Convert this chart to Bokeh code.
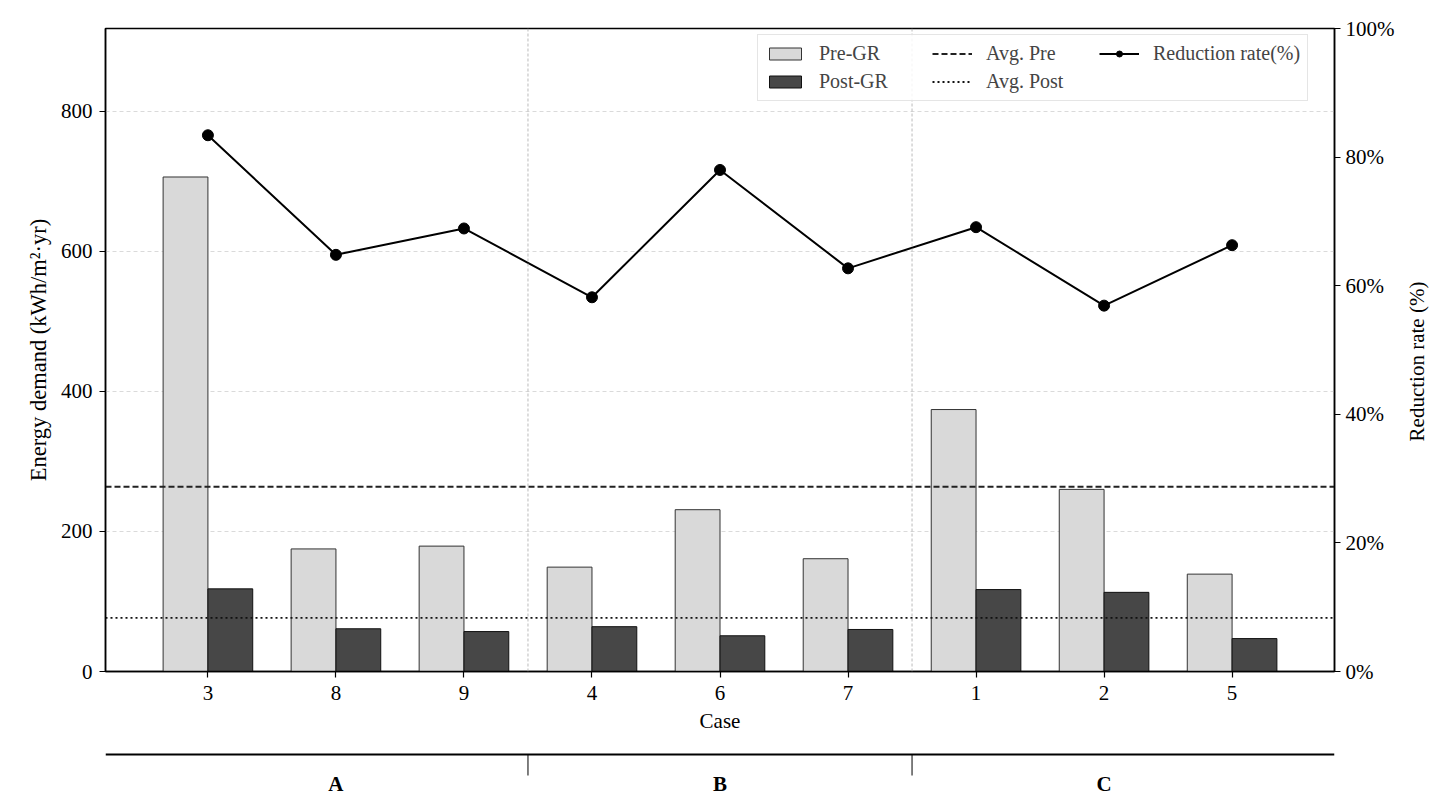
import numpy as np
from bokeh.plotting import figure
from bokeh.models import (Range1d, LinearAxis, FixedTicker, PrintfTickFormatter,
                          Span, Legend, LegendItem, ColumnDataSource)
from bokeh.transform import dodge
from bokeh.layouts import column, row
from bokeh.core.properties import value
from bokeh.embed import file_html
from bokeh.resources import INLINE

# ---------------- data ----------------
cases = ["3", "8", "9", "4", "6", "7", "1", "2", "5"]
groups = ["A", "A", "A", "B", "B", "B", "C", "C", "C"]
pre_gr = [706, 175, 179, 149, 231, 161, 374, 260, 139]
post_gr = [118, 61, 57, 64, 51, 60, 117, 113, 47]
reduction_rate = [83.4, 64.8, 68.9, 58.2, 78.0, 62.7, 69.1, 56.9, 66.3]
left_ticks = [0, 200, 400, 600, 800]
right_ticks = [0, 20, 40, 60, 80, 100]
right_title = ["Reduction rate (%)"]

FONT = "Liberation Serif"
idx = list(range(len(cases)))
src = ColumnDataSource(dict(idx=idx, pre=pre_gr, post=post_gr, rate=reduction_rate))
avg_pre = float(np.mean(pre_gr))
avg_post = float(np.mean(post_gr))
W = 1400
BL, BR = 105, 66
H1 = 751

xr = Range1d(-0.8, 8.8)
p = figure(width=W, height=H1, x_range=xr, y_range=Range1d(0, 918),
           output_backend="svg", toolbar_location=None,
           min_border_left=BL, min_border_right=BR, min_border_top=28, min_border_bottom=80)
p.extra_y_ranges = {"rate": Range1d(0, 100)}

# grid
p.xgrid.visible = False
p.ygrid.ticker = FixedTicker(ticks=left_ticks)
p.ygrid.grid_line_color = "#d0d0d0"
p.ygrid.grid_line_dash = "4 3"
p.ygrid.grid_line_width = 0.8

# group separators
bounds = [i - 0.5 for i in range(1, len(groups)) if groups[i] != groups[i - 1]]
for b in bounds:
    p.add_layout(Span(location=b, dimension="height", line_color="#aaaaaa",
                      line_dash="3 2", line_width=0.8))

bw = 0.35
r_pre = p.vbar(x=dodge("idx", -bw / 2, range=p.x_range), top="pre", width=bw, source=src,
               fill_color="#d9d9d9", line_color="#333333", line_width=1)
r_post = p.vbar(x=dodge("idx", bw / 2, range=p.x_range), top="post", width=bw, source=src,
                fill_color="#474747", line_color="#111111", line_width=1)

# average lines (span the whole x range)
xs_full = [xr.start, xr.end]
d_pre = p.line(x=xs_full, y=[avg_pre, avg_pre], line_color="#222222",
               line_dash="6 3", line_width=2)
d_post = p.line(x=xs_full, y=[avg_post, avg_post], line_color="#111111",
                line_dash="2 3", line_width=1.8)

# reduction line
r_line = p.line(x="idx", y="rate", source=src, y_range_name="rate",
                line_color="black", line_width=2)
r_pts = p.scatter(x="idx", y="rate", source=src, y_range_name="rate",
                  size=11, fill_color="black", line_color="black")

# axes
xa = p.xaxis[0]
xa.ticker = FixedTicker(ticks=idx)
xa.major_label_overrides = {i: c for i, c in zip(idx, cases)}
xa.axis_label = "Case"
ya = p.yaxis[0]
ya.ticker = FixedTicker(ticks=left_ticks)
ya.axis_label = "Energy demand (kWh/m²·yr)"

ra = LinearAxis(y_range_name="rate", ticker=FixedTicker(ticks=right_ticks),
                formatter=PrintfTickFormatter(format="%d%%"))
p.add_layout(ra, "right")

for ax in [xa, ya, ra]:
    ax.axis_line_width = 1.5
    ax.axis_line_color = "black"
    ax.major_tick_line_color = "black"
    ax.major_tick_line_width = 1.2
    ax.major_tick_out = 6
    ax.major_tick_in = 0
    ax.minor_tick_line_color = None
    ax.major_label_text_font = FONT
    ax.major_label_text_font_size = "21px"
    ax.major_label_text_color = "black"
    ax.axis_label_text_font = FONT
    ax.axis_label_text_font_size = "21px"
    ax.axis_label_text_font_style = "normal"
    ax.axis_label_text_color = "black"
xa.major_label_standoff = 8
xa.axis_label_standoff = 6
ya.major_label_standoff = 7
ya.axis_label_standoff = 7
ya.axis_label_text_font_size = "22.5px"
ra.major_label_standoff = 5

p.outline_line_color = "black"
p.outline_line_width = 1.5

legend = Legend(items=[
    LegendItem(label="Pre-GR", renderers=[r_pre]),
    LegendItem(label="Post-GR", renderers=[r_post]),
    LegendItem(label="Avg. Pre", renderers=[d_pre]),
    LegendItem(label="Avg. Post", renderers=[d_post]),
    LegendItem(label="Reduction rate(%)", renderers=[r_line, r_pts]),
], location=(652, 570), nrows=2, orientation="vertical")
legend.label_text_font = FONT
legend.label_text_font_size = "20px"
legend.glyph_width = 40
legend.glyph_height = 15
legend.label_standoff = 14
legend.label_width = 108
legend.spacing = 5
legend.padding = 7
legend.margin = 0
legend.border_line_color = "#cccccc"
legend.border_line_width = 1
legend.background_fill_alpha = 0.85
p.add_layout(legend)

# ---------- group axis below ----------
p2 = figure(width=W, height=46, x_range=xr, y_range=Range1d(0, 46),
            output_backend="svg", toolbar_location=None, x_axis_type=None, y_axis_type=None,
            min_border_left=BL, min_border_right=BR, min_border_top=0, min_border_bottom=0)
p2.outline_line_color = None
p2.grid.visible = False
p2.add_layout(Span(location=43, dimension="width", line_color="black", line_width=2))
p2.segment(x0=bounds, y0=[43] * len(bounds), x1=bounds, y1=[22] * len(bounds),
           line_color="black", line_width=1)
ug = list(dict.fromkeys(groups))
centers = [float(np.mean([i for i, g in enumerate(groups) if g == u])) for u in ug]
p2.text(x=centers, y=[14] * len(ug), text=ug, text_font=value(FONT), text_font_style="bold",
        text_font_size="21px", text_align="center", text_baseline="middle", text_color="black")

# ---------- right axis title (reads bottom to top) ----------
p3 = figure(width=36, height=H1, x_range=Range1d(0, 36), y_range=Range1d(0, H1),
            output_backend="svg", toolbar_location=None, x_axis_type=None, y_axis_type=None,
            min_border_left=0, min_border_right=0, min_border_top=0, min_border_bottom=0)
p3.outline_line_color = None
p3.grid.visible = False
p3.text(x=[16], y=[H1 - 361], text=right_title, angle=np.pi / 2, text_font=value(FONT),
        text_font_size="21px", text_align="center", text_baseline="middle", text_color="black")

layout = row(column(p, p2, spacing=0), p3, spacing=0)
open("out.html", "w").write(file_html(layout, INLINE))
